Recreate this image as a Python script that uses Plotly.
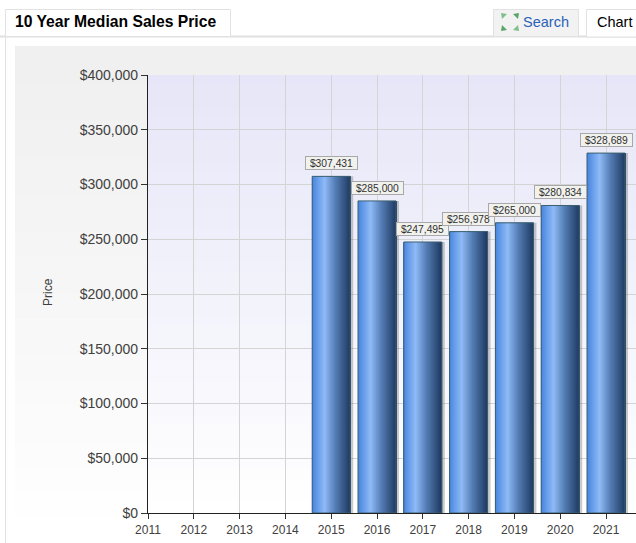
import plotly.graph_objects as go

years = [2015, 2016, 2017, 2018, 2019, 2020, 2021]
prices = [307431, 285000, 247495, 256978, 265000, 280834, 328689]
price_labels = ["$307,431", "$285,000", "$247,495", "$256,978", "$265,000", "$280,834", "$328,689"]
y_ticks = [0, 50000, 100000, 150000, 200000, 250000, 300000, 350000, 400000]
y_tick_labels = ["$0", "$50,000", "$100,000", "$150,000", "$200,000", "$250,000", "$300,000", "$350,000", "$400,000"]
x_ticks = list(range(2011, 2022))

W, H = 636, 543
L, R, T, B = 148, 636, 75, 513
px_per_year = 45.8
bar_px = 38


def lerp(c1, c2, t):
    return tuple(round(a + (b - a) * t) for a, b in zip(c1, c2))


def hexc(c):
    return "#%02x%02x%02x" % tuple(c)


def ramp(stops, t):
    for (t0, c0), (t1, c1) in zip(stops, stops[1:]):
        if t <= t1:
            return lerp(c0, c1, (t - t0) / (t1 - t0))
    return stops[-1][1]


bar_stops = [(0, (70, 132, 222)), (0.33, (142, 186, 246)), (0.62, (84, 124, 180)), (1, (30, 58, 98))]

fig = go.Figure()
w_unit = bar_px / px_per_year
px = 1 / px_per_year

# soft shadow to the right of each bar
fig.add_trace(go.Bar(x=years, y=prices, width=w_unit, offset=-w_unit / 2 + 3 * px,
                     marker=dict(color="rgba(70,70,70,0.28)", line_width=0), hoverinfo="skip"))
# horizontal gradient built from thin vertical strips
for i in range(bar_px):
    t = (i + 0.5) / bar_px
    fig.add_trace(go.Bar(x=years, y=prices, width=1.4 * px, offset=-w_unit / 2 + i * px,
                         marker=dict(color=hexc(ramp(bar_stops, t)), line_width=0), hoverinfo="skip"))
# bar outline
fig.add_trace(go.Bar(x=years, y=prices, width=w_unit, offset=-w_unit / 2,
                     marker=dict(color="rgba(0,0,0,0)", line=dict(color="#3c6070", width=1)), hoverinfo="skip"))

shapes = []


def fx(x):
    return (x - L) / (R - L)


def fy(y):
    return (B - y) / (B - T)


def rect(x0, y0, x1, y1, fill=None, line=None, lw=1, layer="below"):
    shapes.append(dict(type="rect", xref="paper", yref="paper", layer=layer,
                       x0=fx(x0), x1=fx(x1), y0=fy(y0), y1=fy(y1),
                       fillcolor=fill or "rgba(0,0,0,0)",
                       line=dict(color=line or "rgba(0,0,0,0)", width=lw if line else 0)))


def tri(points, fill):
    path = "M " + " L ".join(f"{fx(x):.5f},{fy(y):.5f}" for x, y in points) + " Z"
    shapes.append(dict(type="path", xref="paper", yref="paper", layer="below", path=path,
                       fillcolor=fill, line=dict(width=0, color="rgba(0,0,0,0)")))


# panel background: grey at the top fading to white
steps = 40
for i in range(steps):
    y0 = 46 + (H - 46) * i / steps
    y1 = 46 + (H - 46) * (i + 1) / steps
    rect(15, y0, W, y1 + 0.5, fill=hexc(lerp((240, 240, 240), (255, 255, 255), (i / (steps - 1)) ** 1.2)))
# plot background: lavender at the top fading to white
for i in range(steps):
    y0 = T + (B - T) * i / steps
    y1 = T + (B - T) * (i + 1) / steps
    rect(L, y0, R, y1 + 0.5, fill=hexc(lerp((230, 230, 248), (255, 255, 255), i / (steps - 1))))

# page chrome
rect(5, 36, 6, H, fill="#e2e2e2")
rect(0, 35.5, W, 37.5, fill="#e0e0e0")
rect(5.5, 9.5, 230.5, 36.5, fill="#ffffff", line="#e2e2e2")
rect(493.5, 9.5, 578.5, 36.5, fill="#f2f2f2", line="#e2e2e2")
rect(586.5, 9.5, 640, 37, fill="#ffffff", line="#e2e2e2")

# search icon: four green corner arrows
tri([(501, 13), (507, 14), (502, 19)], "#7fbf8a")
tri([(519, 13), (513, 14), (518, 19)], "#5aa56a")
tri([(501, 31), (507, 30), (502, 25)], "#5aa56a")
tri([(519, 31), (513, 30), (518, 25)], "#7fbf8a")

annotations = []


def page_text(x, y, text, size, color, bold=False, anchor="left", angle=0):
    annotations.append(dict(xref="paper", yref="paper", x=fx(x), y=fy(y),
                            text=f"<b>{text}</b>" if bold else text, showarrow=False, xanchor=anchor,
                            yanchor="middle", textangle=angle,
                            font=dict(size=size, color=color, family="Liberation Sans")))


page_text(13, 21.5, "10 Year Median Sales Price", 15.7, "#000000", bold=True)
page_text(521, 21.5, "Search", 14.5, "#2a62b8")
page_text(595, 21.5, "Chart", 14.5, "#000000")
page_text(48, 292, "Price", 12, "#404040", anchor="center", angle=-90)

for yr, v, lab in zip(years, prices, price_labels):
    annotations.append(dict(x=yr, y=v, xref="x", yref="y", text=lab, showarrow=False, yanchor="bottom",
                            xanchor="center", yshift=6, width=51, height=12, align="center",
                            font=dict(size=10.3, color="#303030", family="Liberation Sans"),
                            bgcolor="#f1f1ee", bordercolor="#a8a8a8", borderwidth=1, borderpad=0))

fig.update_layout(
    width=W, height=H, margin=dict(l=L, r=W - R, t=T, b=H - B), barmode="overlay", showlegend=False,
    paper_bgcolor="#ffffff", plot_bgcolor="rgba(0,0,0,0)", shapes=shapes, annotations=annotations,
    font=dict(family="Liberation Sans", color="#404040"),
    xaxis=dict(range=[2011, 2011 + (R - L) / px_per_year], tickmode="array", tickvals=x_ticks,
               ticktext=[str(v) for v in x_ticks], ticks="outside", ticklen=5, tickcolor="#333333",
               tickfont=dict(size=12, color="#404040"), showgrid=True, gridcolor="#d4d4d4", gridwidth=1.4,
               showline=True, linecolor="#222222", linewidth=1.3, zeroline=False),
    yaxis=dict(range=[0, 400000], tickmode="array", tickvals=y_ticks, ticktext=y_tick_labels, ticks="outside",
               ticklen=6, tickcolor="#333333", tickfont=dict(size=14, color="#404040"), showgrid=True,
               gridcolor="#d4d4d4", gridwidth=1.4, showline=True, linecolor="#222222", linewidth=1.3, zeroline=False),
)

fig.write_html("out.html", config=dict(displayModeBar=False),
               post_script="document.body.style.margin='0';document.body.style.overflow='hidden';")
